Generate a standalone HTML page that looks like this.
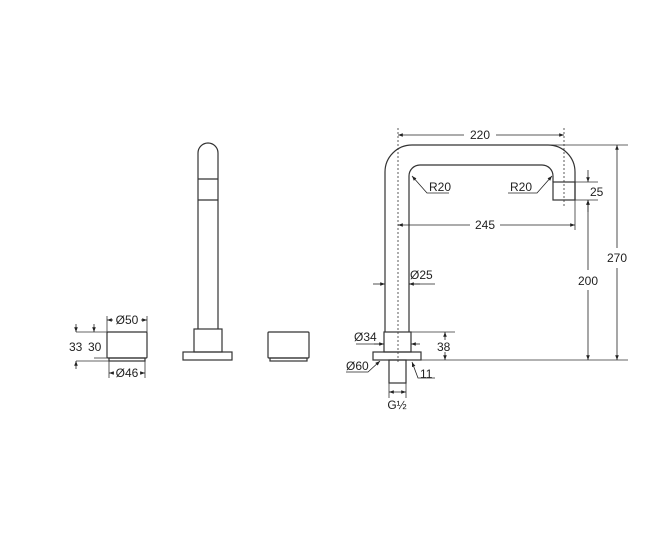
<!DOCTYPE html>
<html><head><style>
html,body{margin:0;padding:0;background:#fff;}
svg{display:block;}
text{font-family:"Liberation Sans",sans-serif;font-size:12px;fill:#222;}
</style></head><body>
<svg width="667" height="535" viewBox="0 0 667 535" xmlns="http://www.w3.org/2000/svg">
<defs>
<marker id="a" viewBox="0 0 8 8" refX="8" refY="4" markerWidth="6" markerHeight="6" orient="auto-start-reverse"><path d="M0,1 L8,4 L0,7z" fill="#222"/></marker>
</defs>
<g fill="none" stroke="#333" stroke-width="1.2">
<rect x="107" y="332" width="40" height="26" rx="1"/>
<rect x="109" y="358" width="36" height="3"/>
<path d="M198,329 V153 A10,10 0 0 1 218,153 V329"/>
<line x1="198" y1="179" x2="218" y2="179"/><line x1="198" y1="200" x2="218" y2="200"/>
<rect x="194" y="329" width="28" height="23"/>
<rect x="183" y="352" width="49" height="8"/>
<rect x="268" y="332" width="41" height="26" rx="1"/>
<rect x="270" y="358" width="37" height="3"/>
<path d="M385,332 V172 A27,27 0 0 1 412,145 H548 A27,27 0 0 1 575,172 V200"/>
<path d="M409,332 V176 A11,11 0 0 1 420,165 H542 A11,11 0 0 1 553,176 V182"/>
<rect x="553" y="182" width="22" height="18"/>
<rect x="384" y="332" width="27" height="20"/>
<rect x="373" y="352" width="48" height="8"/>
<rect x="389" y="360" width="17" height="23"/>
</g>
<g stroke="#333" stroke-width="0.8" fill="none">
<line x1="398" y1="128" x2="398" y2="362" stroke-dasharray="2,2"/>
<line x1="564" y1="128" x2="564" y2="207" stroke-dasharray="2,2"/>
<line x1="421" y1="360" x2="628" y2="360"/>
<line x1="550" y1="145" x2="628" y2="145"/>
<line x1="575" y1="182" x2="598" y2="182"/>
<line x1="575" y1="200" x2="598" y2="200"/>
<line x1="575" y1="200" x2="575" y2="230"/>
<line x1="411" y1="332" x2="455" y2="332"/>
<line x1="76" y1="332" x2="107" y2="332"/>
<line x1="76" y1="361" x2="109" y2="361"/>
<line x1="94" y1="358" x2="107" y2="358"/>
<line x1="107" y1="316" x2="107" y2="332"/><line x1="147" y1="316" x2="147" y2="332"/>
<line x1="109" y1="361" x2="109" y2="378"/><line x1="145" y1="361" x2="145" y2="378"/>
<line x1="389" y1="383" x2="389" y2="398"/><line x1="406" y1="383" x2="406" y2="398"/>
</g>
<g stroke="#222" stroke-width="0.8" fill="none" marker-start="url(#a)" marker-end="url(#a)">
<line x1="398" y1="135" x2="464" y2="135" marker-end="none"/>
<line x1="496" y1="135" x2="564" y2="135" marker-start="none"/>
<line x1="398" y1="225" x2="470" y2="225" marker-end="none"/>
<line x1="500" y1="225" x2="575" y2="225" marker-start="none"/>
<line x1="617" y1="145" x2="617" y2="248" marker-end="none"/>
<line x1="617" y1="268" x2="617" y2="360" marker-start="none"/>
<line x1="588" y1="200" x2="588" y2="270" marker-end="none"/>
<line x1="588" y1="290" x2="588" y2="360" marker-start="none"/>
<line x1="588" y1="170" x2="588" y2="182" marker-start="none"/>
<line x1="588" y1="212" x2="588" y2="200" marker-start="none"/>
<line x1="445" y1="332" x2="445" y2="340" marker-end="none"/>
<line x1="445" y1="352" x2="445" y2="360" marker-start="none"/>
<line x1="373" y1="284" x2="385" y2="284" marker-start="none"/>
<line x1="420" y1="284" x2="409" y2="284" marker-start="none"/>
<line x1="409" y1="284" x2="435" y2="284" marker-start="none" marker-end="none"/>
<line x1="356" y1="344" x2="384" y2="344" marker-start="none" marker-end="none"/>
<line x1="374" y1="344" x2="384" y2="344" marker-start="none"/>
<line x1="420" y1="344" x2="411" y2="344" marker-start="none"/>
<line x1="389" y1="392" x2="406" y2="392"/>
<line x1="107" y1="320" x2="113" y2="320" marker-end="none"/>
<line x1="141" y1="320" x2="147" y2="320" marker-start="none"/>
<line x1="109" y1="373" x2="114" y2="373" marker-end="none"/>
<line x1="140" y1="373" x2="145" y2="373" marker-start="none"/>
<line x1="76" y1="324" x2="76" y2="332" marker-start="none"/>
<line x1="76" y1="369" x2="76" y2="361" marker-start="none"/>
<line x1="94" y1="324" x2="94" y2="332" marker-start="none"/>
<polyline points="449,193 427,193 412,176" marker-start="none"/>
<polyline points="508,193 537,193 552,176" marker-start="none"/>
<polyline points="346,372 368,372 380,361" marker-start="none"/>
<polyline points="435,378 418,378 412,362" marker-start="none"/>
</g>
<text x="480" y="139" text-anchor="middle">220</text>
<text x="485" y="229" text-anchor="middle">245</text>
<text x="617" y="262" text-anchor="middle">270</text>
<text x="588" y="285" text-anchor="middle">200</text>
<text x="590" y="196">25</text>
<text x="429" y="191">R20</text>
<text x="510" y="191">R20</text>
<text x="410" y="279">Ø25</text>
<text x="354" y="341">Ø34</text>
<text x="437" y="351">38</text>
<text x="346" y="370">Ø60</text>
<text x="420" y="378">11</text>
<text x="397" y="409" text-anchor="middle">G½</text>
<text x="127" y="324" text-anchor="middle">Ø50</text>
<text x="127" y="377" text-anchor="middle">Ø46</text>
<text x="69" y="351">33</text>
<text x="88" y="351">30</text>
</svg>
</body></html>
